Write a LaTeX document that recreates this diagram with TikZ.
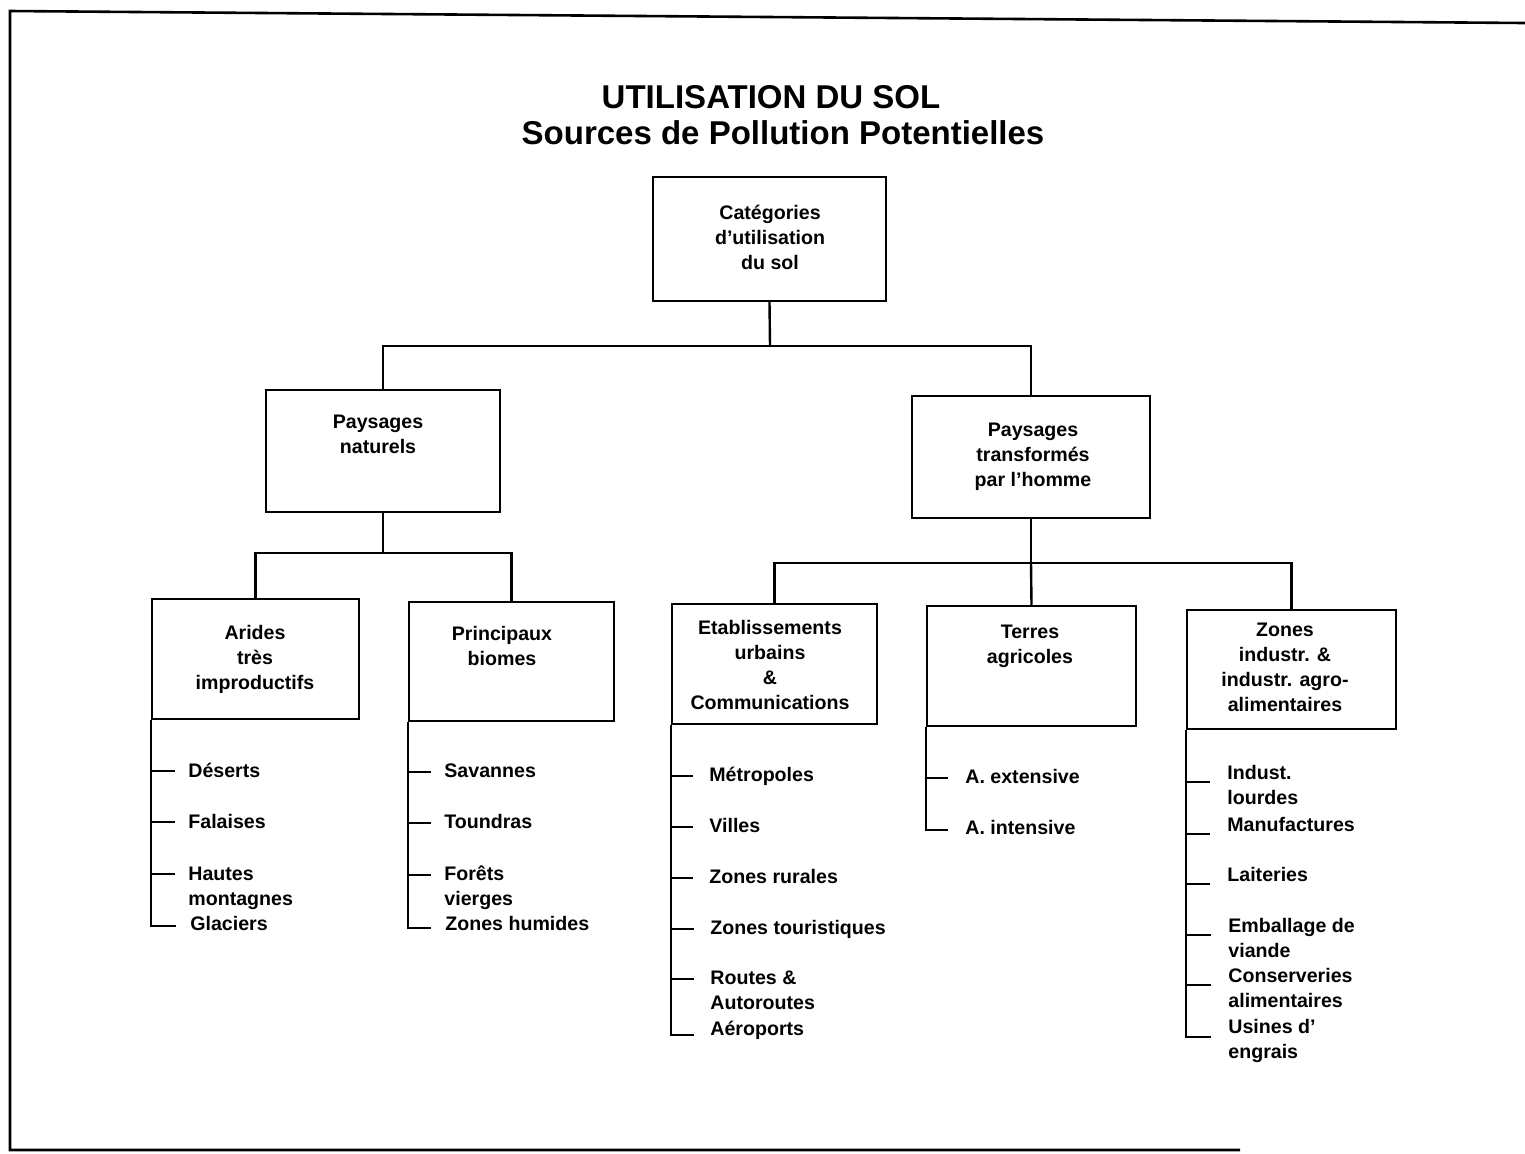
\documentclass[tikz,border=0pt]{standalone}
\usepackage{fontspec}
\setmainfont{Liberation Sans}
\usetikzlibrary{fit}
\newcommand\ilines[1]{\begin{tabular}[t]{@{}l@{}}#1\end{tabular}}
\begin{document}
\begin{tikzpicture}[x=0.5pt,y=-0.5pt,
  box/.style={draw, line width=1.2pt, inner sep=0pt},
  lbl/.style={font=\bfseries\fontsize{9.8}{12.5}\selectfont, align=center, inner sep=0pt},
  item/.style={font=\bfseries\fontsize{9.8}{12.5}\selectfont, anchor=base west, inner sep=0pt},
  ttl/.style={font=\bfseries\fontsize{16.5}{18}\selectfont, inner sep=0pt},
  conn/.style={line width=1.2pt},
  frame/.style={line width=1.3pt}]
\useasboundingbox (0,0) rectangle (1525,1153);
% frame
\draw[frame] (1525,23) -- (10,11) -- (10,1150) -- (1240,1150);
% title
\node[ttl] (title1) at (771,97) {UTILISATION DU SOL};
\node[ttl] (title2) at (783,133) {Sources de Pollution Potentielles};
% boxes
\node[box, fit={(653,177) (886,301)}] (root) {};
\node[box, fit={(266,390) (500,512)}] (nat) {};
\node[box, fit={(912,396) (1150,518)}] (trans) {};
\node[box, fit={(152,599) (359,719)}] (arides) {};
\node[box, fit={(409,602) (614,721)}] (biomes) {};
\node[box, fit={(672,604) (877,724)}] (etab) {};
\node[box, fit={(927,606) (1136,726)}] (terres) {};
\node[box, fit={(1187,610) (1396,729)}] (zones) {};
% box labels
\node[lbl] (rootT) at (770,237) {Catégories\\d’utilisation\\du sol};
\node[lbl] (natT) at (378,434.5) {Paysages\\naturels};
\node[lbl] (transT) at (1033,457) {Paysages\\transformés\\par l’homme};
\node[lbl] (aridesT) at (255,659.5) {Arides\\très\\improductifs};
\node[lbl] (biomesT) at (502,646) {Principaux\\biomes};
\node[lbl] (etabT) at (770,665) {Etablissements\\urbains\\\&\\Communications};
\node[lbl] (terresT) at (1030,646.5) {Terres\\agricoles};
\node[lbl] (zonesT) at (1285,667.5) {Zones\\industr. \&\\industr. agro-\\alimentaires};
% tree connectors
\coordinate (j0) at (770,346);
\coordinate (j1) at (383,553);
\coordinate (j2) at (1031,563);
\draw[conn] (root.south) -- (j0);
\draw[conn] (nat.north) |- (j0) -| (trans.north);
\draw[conn] (nat.south) -- (j1);
\draw[conn] (arides.north) |- (j1) -| (biomes.north);
\draw[conn] (trans.south) -- (j2);
\draw[conn] (etab.north) |- (j2) -| (zones.north);
\draw[conn] (terres.north) -- (j2);
% list: arides
\node[item] (a1) at (188,777) {Déserts};
\node[item] (a2) at (188,828) {Falaises};
\node[item] (a3) at (188,880) {\ilines{Hautes\\montagnes}};
\node[item] (a4) at (190,930) {Glaciers};
\draw[conn] (arides.south west) |- ([xshift=-7pt,yshift=2pt]a4.base west);
\foreach \n in {a1,a2,a3}
  \draw[conn] ([yshift=3pt]\n.base west -| arides.south west) -- ([xshift=-6.5pt,yshift=3pt]\n.base west);
% list: biomes
\node[item] (b1) at (444,777) {Savannes};
\node[item] (b2) at (444,828) {Toundras};
\node[item] (b3) at (444,880) {\ilines{Forêts\\vierges}};
\node[item] (b4) at (445,930) {Zones humides};
\draw[conn] (biomes.south west) |- ([xshift=-7pt,yshift=1pt]b4.base west);
\foreach \n in {b1,b2,b3}
  \draw[conn] ([yshift=2.5pt]\n.base west -| biomes.south west) -- ([xshift=-6.5pt,yshift=2.5pt]\n.base west);
% list: etab
\node[item] (e1) at (709,781) {Métropoles};
\node[item] (e2) at (709,832) {Villes};
\node[item] (e3) at (709,883) {Zones rurales};
\node[item] (e4) at (710,934) {Zones touristiques};
\node[item] (e5) at (710,984) {\ilines{Routes \&\\Autoroutes}};
\node[item] (e6) at (710,1035) {Aéroports};
\draw[conn] (etab.south west) |- ([xshift=-8pt]e6.base west);
\foreach \n in {e1,e2,e3,e4,e5}
  \draw[conn] ([yshift=2.5pt]\n.base west -| etab.south west) -- ([xshift=-8pt,yshift=2.5pt]\n.base west);
% list: terres
\node[item] (t1) at (965,783) {A. extensive};
\node[item] (t2) at (965,834) {A. intensive};
\draw[conn] (terres.south west) |- ([xshift=-8.5pt,yshift=2pt]t2.base west);
\draw[conn] ([yshift=2.5pt]t1.base west -| terres.south west) -- ([xshift=-8.5pt,yshift=2.5pt]t1.base west);
% list: zones
\node[item] (z1) at (1227,779) {\ilines{Indust.\\lourdes}};
\node[item] (z2) at (1227,831) {Manufactures};
\node[item] (z3) at (1227,881) {Laiteries};
\node[item] (z4) at (1228,932) {\ilines{Emballage de\\viande}};
\node[item] (z5) at (1228,982) {\ilines{Conserveries\\alimentaires}};
\node[item] (z6) at (1228,1033) {\ilines{Usines d'\\engrais}};
\draw[conn] (zones.south west) |- ([xshift=-8.5pt,yshift=-2pt]z6.base west);
\foreach \n in {z1,z2,z3,z4,z5}
  \draw[conn] ([yshift=-1.5pt]\n.base west -| zones.south west) -- ([xshift=-8.5pt,yshift=-1.5pt]\n.base west);
\end{tikzpicture}
\end{document}
